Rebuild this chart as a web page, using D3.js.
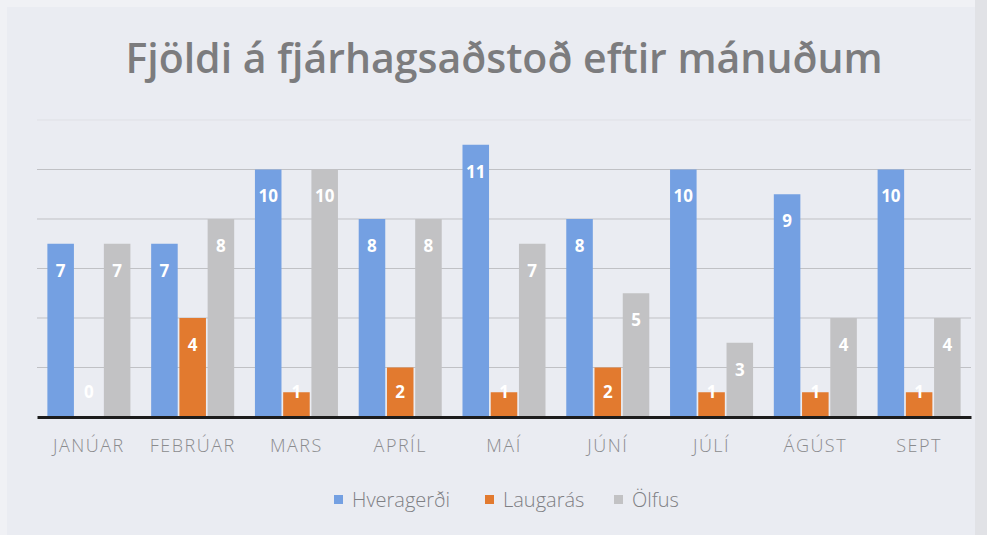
<!DOCTYPE html>
<html>
<head>
<meta charset="utf-8">
<script src="https://cdn.jsdelivr.net/npm/d3@7"></script>
<style>
  body { margin: 0; background: #f0f1f5; }
  svg { display: block; }
</style>
</head>
<body>
<svg id="chart"></svg>
<script>
const months = ["JANÚAR", "FEBRÚAR", "MARS", "APRÍL", "MAÍ", "JÚNÍ", "JÚLÍ", "ÁGÚST", "SEPT"];
const seriesNames = ["Hveragerði", "Laugarás", "Ölfus"];
const hveragerdi = [7, 7, 10, 8, 11, 8, 10, 9, 10];
const laugaras = [0, 4, 1, 2, 1, 2, 1, 1, 1];
const olfus = [7, 8, 10, 8, 7, 5, 3, 4, 4];
const gridTicks = [2, 4, 6, 8, 10, 12];
const colors = ["#74a0e2", "#e27a2f", "#c2c2c4"];

const W = 987, H = 535;
const margin = { top: 120, right: 16, bottom: 118, left: 37 },
      width = W - margin.left - margin.right,
      height = H - margin.top - margin.bottom;

const root = d3.select("#chart").attr("width", W).attr("height", H);

root.append("rect")
    .attr("x", 7).attr("y", 7).attr("width", 968).attr("height", 530)
    .attr("fill", "#eaecf2");
root.append("rect")
    .attr("x", 975).attr("y", 0).attr("width", 12).attr("height", H)
    .attr("fill", "#e1e2e6");

root.append("text")
    .attr("x", 504).attr("y", 73)
    .attr("text-anchor", "middle")
    .attr("font-family", "'Open Sans', sans-serif")
    .attr("font-weight", 600)
    .attr("font-size", 41)
    .attr("fill", "#7c7c7e")
    .text("Fjöldi á fjárhagsaðstoð eftir mánuðum");

const svg = root.append("g")
    .attr("transform", `translate(${margin.left},${margin.top})`);

const data = months.map((m, i) => ({
    month: m,
    values: [hveragerdi[i], laugaras[i], olfus[i]]
}));

const x0 = d3.scaleBand()
    .domain(months)
    .range([0, width])
    .paddingInner(0.2)
    .paddingOuter(0.1);

const x1 = d3.scaleBand()
    .domain(d3.range(seriesNames.length))
    .range([0, x0.bandwidth()])
    .paddingInner(0.06);

const y = d3.scaleLinear()
    .domain([0, 12])
    .range([height, 0]);

// gridlines
svg.append("g")
    .selectAll("line")
    .data(gridTicks)
    .enter().append("line")
    .attr("x1", 0).attr("x2", width)
    .attr("y1", d => y(d)).attr("y2", d => y(d))
    .attr("stroke", d => d === 12 ? "#dfe0e5" : "#c0c1c5")
    .attr("stroke-width", 1);

const groups = svg.selectAll(".group")
    .data(data)
    .enter().append("g")
    .attr("class", "group")
    .attr("transform", d => `translate(${x0(d.month)},0)`);

groups.selectAll("rect")
    .data(d => d.values.map((v, k) => ({ k, v })))
    .enter().append("rect")
    .attr("x", d => x1(d.k))
    .attr("y", d => y(d.v))
    .attr("width", x1.bandwidth())
    .attr("height", d => height - y(d.v))
    .attr("fill", d => colors[d.k]);

groups.selectAll("text")
    .data(d => d.values.map((v, k) => ({ k, v })))
    .enter().append("text")
    .attr("x", d => x1(d.k) + x1.bandwidth() / 2)
    .attr("y", d => Math.min(y(d.v) + 27, y(0) - 25))
    .attr("dy", "0.35em")
    .attr("text-anchor", "middle")
    .attr("font-family", "'Open Sans', sans-serif")
    .attr("font-weight", 700)
    .attr("font-size", 17)
    .attr("fill", "#ffffff")
    .text(d => d.v);

// x axis
const xAxis = svg.append("g")
    .attr("transform", `translate(0,${height})`)
    .call(d3.axisBottom(x0).tickSize(0).tickPadding(22));
xAxis.select(".domain")
    .attr("stroke", "#1c1c1c")
    .attr("stroke-width", 3);
xAxis.selectAll("text")
    .attr("font-family", "'Open Sans', sans-serif")
    .attr("font-weight", 300)
    .attr("font-size", 18)
    .attr("letter-spacing", 1.5)
    .attr("fill", "#8a8b8e");

// legend
const legendItems = [
    { name: seriesNames[0], x: 352 },
    { name: seriesNames[1], x: 503 },
    { name: seriesNames[2], x: 632 }
];
const legend = root.append("g").attr("transform", "translate(0,500)");
legendItems.forEach((d, i) => {
    legend.append("rect")
        .attr("x", d.x - 18).attr("y", -5)
        .attr("width", 9).attr("height", 9)
        .attr("fill", colors[i]);
    legend.append("text")
        .attr("x", d.x)
        .attr("y", 0)
        .attr("dy", "0.35em")
        .attr("font-family", "'Open Sans', sans-serif")
        .attr("font-weight", 300)
        .attr("font-size", 20)
        .attr("fill", "#7f8084")
        .text(d.name);
});
</script>
</body>
</html>
